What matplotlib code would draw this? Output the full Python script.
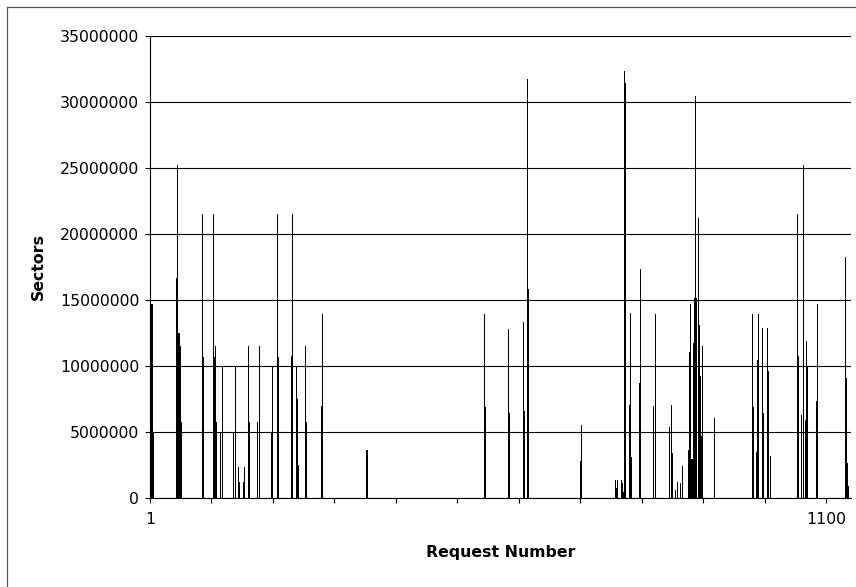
import matplotlib
matplotlib.use("Agg")
import matplotlib.pyplot as plt
import numpy as np
from matplotlib.lines import Line2D

# ---------------- data ----------------
n_requests = 1140

spike_requests = [
    2, 3, 5,
    42, 43, 44, 45, 46, 47, 48, 49, 50, 51,
    85, 86, 87,
    103, 104, 105, 106, 107, 108,
    115, 117, 136, 138, 144, 146, 151, 154,
    160, 162, 175, 177, 197, 199, 207, 208,
    230, 232, 238, 240, 241, 252, 255, 279, 280,
    352, 353,
    543, 545, 582, 584, 607, 609, 613, 615,
    700, 702,
    757, 758, 760, 766, 768, 770, 771, 772, 773,
    779, 781, 783, 796, 798, 819, 821,
    845, 847, 849, 855, 857, 863, 865,
    875, 876, 877, 878, 879, 880, 881, 882, 883, 884, 885, 886, 887, 889,
    891, 893, 895, 897, 899,
    917, 918,
    980, 981, 986, 988, 990, 996, 998, 1004, 1006, 1008,
    1053, 1055, 1060, 1062, 1063, 1065, 1067, 1069,
    1084, 1086,
    1131, 1132, 1134, 1136,
]

spike_sectors = [
    14700000, 14700000, 4900000,
    1850000, 16600000, 16600000, 25200000, 12500000, 12500000, 11500000, 11500000, 5700000, 5700000,
    21500000, 10650000, 10650000,
    21500000, 10650000, 10650000, 11500000, 5700000, 5700000,
    5000000, 9900000, 5000000, 9900000, 2350000, 1160000, 1160000, 2350000,
    11450000, 5700000, 5700000, 11450000, 5000000, 10000000, 21500000, 10650000,
    10750000, 21500000, 10000000, 7500000, 2500000, 11450000, 5700000, 6950000, 13900000,
    3600000, 3600000,
    13900000, 6840000, 12800000, 6400000, 13300000, 6600000, 31700000, 15800000,
    2800000, 5500000,
    1340000, 700000, 1340000, 1340000, 1100000, 450000, 32300000, 31400000, 31400000,
    7000000, 14000000, 3050000, 8660000, 17300000, 6940000, 13900000,
    5330000, 7000000, 3400000, 580000, 1200000, 1140000, 2400000,
    3600000, 2900000, 11000000, 2900000, 14700000, 2900000, 2850000, 2900000, 11700000, 2900000,
    15100000, 2900000, 30400000, 15100000,
    21200000, 13100000, 9200000, 4670000, 11500000,
    3000000, 6000000,
    13900000, 6860000, 3440000, 10400000, 13900000, 12860000, 6400000, 12860000, 9600000, 3160000,
    21500000, 10700000, 6280000, 18860000, 25200000, 5900000, 11900000, 9950000,
    7340000, 14700000,
    18200000, 9040000, 2650000, 900000,
]

y_ticks = [0, 5000000, 10000000, 15000000, 20000000, 25000000, 30000000, 35000000]
x_label_positions = [1, 1100]
x_tick_labels = ["1", "1100"]

requests = np.arange(1, n_requests + 1)
sectors = np.zeros(n_requests)
for r, v in zip(spike_requests, spike_sectors):
    sectors[r - 1] = v

# ---------------- figure ----------------
plt.rcParams["font.family"] = ["DejaVu Sans"]
W, H = 856, 587
fig = plt.figure(figsize=(W / 100, H / 100), dpi=100)
fig.patch.set_facecolor("white")

left, right, top, bottom = 150, 851, 35.5, 497.7
ax = fig.add_axes([left / W, 1 - bottom / H, (right - left) / W, (bottom - top) / H])

nz = sectors > 0
ax.vlines(requests[nz], 0, sectors[nz], colors="black", linewidth=0.72, antialiased=False, zorder=3)

ax.set_xlim(0.5, n_requests + 0.5)
ax.set_ylim(0, 35000000)

ax.set_yticks(y_ticks)
ax.set_yticklabels([str(v) for v in y_ticks])
ax.yaxis.grid(True, color="black", linewidth=0.8)
ax.set_axisbelow(True)

ax.set_xticks(x_label_positions)
ax.set_xticklabels(x_tick_labels)
ax.set_xticks([0.5 + 100 * k for k in range(12)], minor=True)

ax.tick_params(axis="y", which="major", direction="out", length=3.8, width=0.8,
               color="black", labelsize=11.3, pad=4)
ax.tick_params(axis="x", which="major", length=0, labelsize=11.3, pad=10)
ax.tick_params(axis="x", which="minor", direction="out", length=3.8, width=0.8, color="black")

for s in ["top", "right"]:
    ax.spines[s].set_visible(False)
for s in ["left", "bottom"]:
    ax.spines[s].set_color("black")
    ax.spines[s].set_linewidth(0.8)

ax.set_xlabel("Request Number", fontweight="bold", fontsize=11.3)
ax.xaxis.set_label_coords(0.5, (bottom - 552) / (bottom - top))
ax.xaxis.label.set_va("center")
ax.set_ylabel("Sectors", fontweight="bold", fontsize=11.3)
ax.yaxis.set_label_coords((38 - left) / (right - left), (bottom - 267) / (bottom - top))
ax.yaxis.label.set_va("center")

# chart-area border (left and top visible in the reference)
fig.add_artist(Line2D([7.5 / W, 7.5 / W], [0, 1 - 6.5 / H], transform=fig.transFigure,
                      color="#555555", linewidth=0.9))
fig.add_artist(Line2D([7.5 / W, 1], [1 - 6.5 / H, 1 - 6.5 / H], transform=fig.transFigure,
                      color="#555555", linewidth=0.9))

fig.savefig("out.png", dpi=100)
